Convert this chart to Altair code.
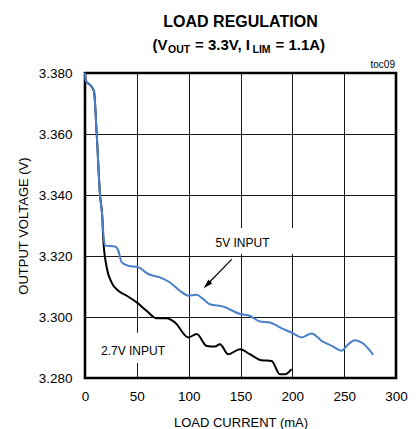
import altair as alt
import pandas as pd

# Load-regulation curves: load current (mA) vs output voltage (V)
vin5_current = [0, 0.5, 6.4, 8.7, 11.3, 14.5, 16.7, 17.7, 19.3, 28.9, 32.1, 35.4, 41.8, 51.4,
                61, 72.3, 82, 91.6, 99.6, 107.7, 114, 120.4, 133.4, 149.5, 159, 168.8, 178.4,
                188, 200.9, 209, 218.6, 228.3, 239.5, 247.5, 252.3, 260.3, 268.3, 278]
vin5_voltage = [3.3800, 3.3776, 3.3755, 3.3739, 3.3600, 3.3400, 3.3327, 3.3273, 3.3234, 3.3231,
                3.3218, 3.3179, 3.3168, 3.3163, 3.3141, 3.3130, 3.3113, 3.3086, 3.3070, 3.3073,
                3.3059, 3.3042, 3.3034, 3.3010, 3.3004, 3.2985, 3.2982, 3.2966, 3.2946, 3.2933,
                3.2946, 3.2922, 3.2903, 3.2889, 3.2905, 3.2924, 3.2913, 3.2876]

vin27_current = [0, 0.5, 6.4, 8.7, 11.3, 14.5, 16.7, 17.7, 20.9, 25.7, 32.1, 40.2, 49.9, 59.5,
                 69.1, 78.8, 86.8, 99.6, 107.7, 117.4, 125.4, 130.2, 138.2, 149.5, 159, 170.4,
                 180, 188, 192.9, 199.3]
vin27_voltage = [3.3800, 3.3776, 3.3755, 3.3739, 3.3600, 3.3400, 3.3327, 3.3251, 3.3163, 3.3113,
                 3.3086, 3.3070, 3.3048, 3.3020, 3.2996, 3.2996, 3.2982, 3.2933, 3.2944, 3.2905,
                 3.2903, 3.2911, 3.2878, 3.2894, 3.2878, 3.2858, 3.2856, 3.2812, 3.2812, 3.2829]

x_ticks = [0, 50, 100, 150, 200, 250, 300]
y_ticks = [3.280, 3.300, 3.320, 3.340, 3.360, 3.380]

BLUE = "#4a7fc9"
FONT = "Liberation Sans, Arial, sans-serif"

df5 = pd.DataFrame({"current": vin5_current, "voltage": vin5_voltage})
df27 = pd.DataFrame({"current": vin27_current, "voltage": vin27_voltage})

xs = alt.Scale(domain=[0, 300], nice=False, zero=False)
ys = alt.Scale(domain=[3.28, 3.38], nice=False, zero=False)

common_axis = dict(grid=True, ticks=False, domain=False, labelFlush=False,
                   labelFontSize=13.5, titleFontSize=13, labelFont=FONT, titleFont=FONT,
                   titleFontWeight="normal", labelColor="black", titleColor="black",
                   gridColor="black", gridWidth=1, gridOpacity=0.9)
x_axis = alt.Axis(values=x_ticks, title="LOAD CURRENT  (mA)", labelPadding=11,
                  titlePadding=14, **common_axis)
y_axis = alt.Axis(values=y_ticks, format=".3f", title="OUTPUT VOLTAGE (V)",
                  labelPadding=13, titlePadding=8, **common_axis)

base_grid = alt.Chart(df5).mark_line(opacity=0).encode(
    x=alt.X("current:Q", scale=xs, axis=x_axis),
    y=alt.Y("voltage:Q", scale=ys, axis=y_axis),
)

# White backgrounds behind the curve labels
boxes = alt.Chart(pd.DataFrame({
    "x1": [110.9, 9.6], "x2": [201.6, 82.0],
    "y1": [3.3292, 3.2948], "y2": [3.3207, 3.2849],
})).mark_rect(color="white").encode(
    x=alt.X("x1:Q", scale=xs), x2="x2:Q",
    y=alt.Y("y1:Q", scale=ys), y2="y2:Q",
)

line27 = alt.Chart(df27).mark_line(color="black", strokeWidth=2, interpolate="monotone").encode(
    x=alt.X("current:Q", scale=xs), y=alt.Y("voltage:Q", scale=ys))
line5 = alt.Chart(df5).mark_line(color=BLUE, strokeWidth=2, interpolate="monotone").encode(
    x=alt.X("current:Q", scale=xs), y=alt.Y("voltage:Q", scale=ys))

labels = alt.Chart(pd.DataFrame({
    "x": [151.9, 46.3], "y": [3.3230, 3.2875], "t": ["5V INPUT", "2.7V INPUT"],
})).mark_text(font=FONT, fontSize=12, color="black", align="center",
              baseline="alphabetic").encode(
    x=alt.X("x:Q", scale=xs), y=alt.Y("y:Q", scale=ys), text="t:N")

# Arrow pointing at the 5V curve
arrow_line = alt.Chart(pd.DataFrame({
    "x": [141.5], "y": [3.3189], "x2": [118.6], "y2": [3.3109],
})).mark_rule(color="black", strokeWidth=1.2).encode(
    x=alt.X("x:Q", scale=xs), y=alt.Y("y:Q", scale=ys), x2="x2:Q", y2="y2:Q")
arrow_head = alt.Chart(pd.DataFrame({"x": [117.6], "y": [3.3105]})).mark_point(
    shape="M0,-1L0.55,1L-0.55,1Z", filled=True, color="black", opacity=1,
    size=90, angle=225).encode(
    x=alt.X("x:Q", scale=xs), y=alt.Y("y:Q", scale=ys))


def piece(text, x, y, size, align="left"):
    return alt.Chart(pd.DataFrame({"t": [text]})).mark_text(
        font=FONT, fontSize=size, fontWeight="bold", color="black", align=align,
        baseline="alphabetic").encode(text="t:N", x=alt.value(x), y=alt.value(y))


# Two-line title; the second line carries subscripts
title1 = piece("LOAD REGULATION", 155.5, -46.0, 16, "center")
sub1 = piece("(V", 67.5, -23.0, 15)
sub2 = piece("OUT", 83.0, -19.8, 10.5)
sub3 = piece("= 3.3V, I", 110.0, -23.0, 15)
sub4 = piece("LIM", 167.5, -19.8, 10.5)
sub5 = piece("= 1.1A)", 190.5, -23.0, 15)

toc = alt.Chart(pd.DataFrame({"t": ["toc09"]})).mark_text(
    font=FONT, fontSize=10, color="black", align="right", baseline="alphabetic").encode(
    text="t:N", x=alt.value(310), y=alt.value(-4.7))

chart = alt.layer(
    base_grid, boxes, line27, line5, labels, arrow_line, arrow_head,
    title1, sub1, sub2, sub3, sub4, sub5, toc,
).properties(
    width=311, height=305,
    autosize=alt.AutoSizeParams(type="none"),
    padding={"left": 85, "top": 73, "right": 21, "bottom": 51},
    background="white",
).configure_view(
    stroke="black", strokeWidth=2.6,
)

chart.save("out.html", embed_options={"renderer": "svg", "actions": False})
